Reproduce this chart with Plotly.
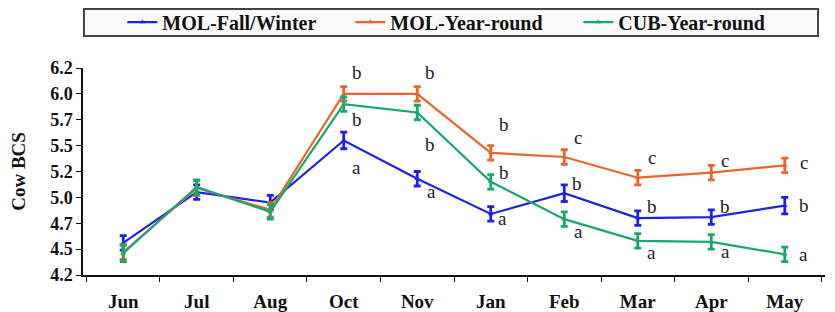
import plotly.graph_objects as go

months = ["Jun", "Jul", "Aug", "Oct", "Nov", "Jan", "Feb", "Mar", "Apr", "May"]

mol_fw = [4.56, 5.05, 4.95, 5.55, 5.18, 4.84, 5.04, 4.80, 4.81, 4.92]
mol_yr = [4.47, 5.09, 4.88, 6.00, 6.00, 5.43, 5.39, 5.19, 5.24, 5.31]
cub_yr = [4.46, 5.10, 4.86, 5.90, 5.82, 5.15, 4.79, 4.58, 4.57, 4.45]

mol_fw_err = [0.07, 0.07, 0.07, 0.08, 0.07, 0.07, 0.08, 0.07, 0.07, 0.08]
mol_yr_err = [0.07, 0.07, 0.07, 0.07, 0.07, 0.07, 0.07, 0.07, 0.07, 0.07]
cub_yr_err = [0.08, 0.07, 0.07, 0.07, 0.07, 0.07, 0.07, 0.07, 0.07, 0.07]

mol_fw_letters = ["", "", "", "a", "a", "a", "b", "b", "b", "b"]
mol_yr_letters = ["", "", "", "b", "b", "b", "c", "c", "c", "c"]
cub_yr_letters = ["", "", "", "b", "b", "b", "a", "a", "a", "a"]

y_tickvals = [4.25, 4.5, 4.75, 5.0, 5.25, 5.5, 5.75, 6.0, 6.25]
y_ticktext = ["4.2", "4.5", "4.7", "5.0", "5.2", "5.5", "5.7", "6.0", "6.2"]

# letter offsets in pixels (dx, dy up)
fw_off = [(0, 0)] * 3 + [(13, -27), (14, -13), (12, -5), (13, 10), (14, 12), (14, 11), (19, 0)]
yr_off = [(0, 0)] * 3 + [(13, 21), (13, 21), (13, 28), (14, 20), (14, 20), (14, 12), (19, 3)]
cub_off = [(0, 0)] * 3 + [(13, -15), (13, -32), (13, 9), (14, -12), (14, -12), (14, -10), (19, 0)]

BLUE = "#1f22e6"
ORANGE = "#e8662c"
GREEN = "#17a96a"
FONT = "Liberation Serif, Times New Roman, serif"

fig = go.Figure()
series = [
    ("MOL-Fall/Winter", mol_fw, mol_fw_err, BLUE),
    ("MOL-Year-round", mol_yr, mol_yr_err, ORANGE),
    ("CUB-Year-round", cub_yr, cub_yr_err, GREEN),
]
for name, vals, errs, col in series:
    fig.add_trace(go.Scatter(
        x=months, y=vals, name=name, mode="lines+markers",
        line=dict(color=col, width=2.2),
        marker=dict(color=col, size=5, symbol="triangle-up"),
        error_y=dict(type="data", array=errs, visible=True, color=col, thickness=2.8, width=3.5),
    ))

annotations = []
for vals, letters, offs in [(mol_fw, mol_fw_letters, fw_off),
                            (mol_yr, mol_yr_letters, yr_off),
                            (cub_yr, cub_yr_letters, cub_off)]:
    for m, v, lt, (dx, dy) in zip(months, vals, letters, offs):
        if lt:
            annotations.append(dict(
                x=m, y=v, text=lt, showarrow=False, xshift=dx, yshift=dy,
                xanchor="center", yanchor="middle",
                font=dict(family=FONT, size=19, color="#222", weight="normal")))

# legend frame (page body adds an 8px offset, so figure is 8px smaller)
shapes = [dict(type="rect", xref="paper", yref="paper",
               x0=0.0013, x1=0.9906, y0=1.1546, y1=1.285,
               line=dict(color="#444", width=2), fillcolor="#fafafa", layer="below")]

fig.update_layout(
    width=827, height=304,
    margin=dict(l=75, r=10, t=60, b=37, autoexpand=False),
    paper_bgcolor="white", plot_bgcolor="white",
    font=dict(family=FONT, size=18, color="#111", weight="bold"),
    showlegend=True,
    legend=dict(
        orientation="h", x=0.053, xanchor="left", y=1.222, yanchor="middle",
        borderwidth=0, bgcolor="rgba(0,0,0,0)",
        font=dict(family=FONT, size=20, color="#111", weight="bold"),
        entrywidth=183, entrywidthmode="pixels", itemwidth=30,
    ),
    shapes=shapes,
    annotations=annotations,
    xaxis=dict(
        type="category", categoryorder="array", categoryarray=months,
        showline=True, linecolor="#111", linewidth=1.5,
        ticks="outside", tickson="boundaries", ticklen=5, tickcolor="#111",
        ticklabelstandoff=8,
        showgrid=False, zeroline=False,
        tickfont=dict(family=FONT, size=19, color="#111", weight="bold"),
    ),
    yaxis=dict(
        range=[4.25, 6.25], tickvals=y_tickvals, ticktext=y_ticktext,
        showline=True, linecolor="#111", linewidth=1.5,
        ticks="outside", ticklen=5, tickcolor="#111",
        showgrid=False, zeroline=False,
        title=dict(text="Cow BCS", standoff=22,
                   font=dict(family=FONT, size=19, color="#111", weight="bold")),
        tickfont=dict(family=FONT, size=18, color="#111", weight="bold"),
    ),
)

fig.write_html("out.html")
